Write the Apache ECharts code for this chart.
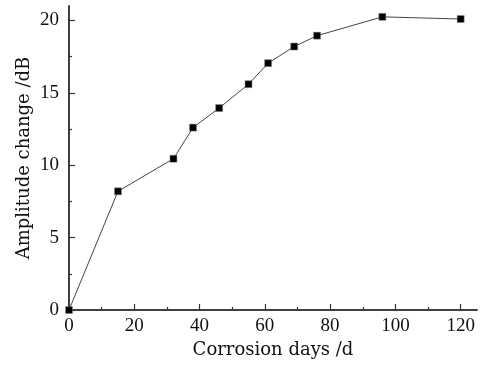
<!DOCTYPE html>
<html>
<head>
<meta charset="utf-8">
<script src="https://cdn.jsdelivr.net/npm/echarts@6/dist/echarts.min.js"></script>
<style>
  html, body { margin: 0; padding: 0; background: #fff; }
  #chart { width: 494px; height: 366px; }
</style>
</head>
<body>
<div id="chart"></div>
<script>
// corrosion days vs amplitude change
const days = [0, 15, 32, 38, 46, 55, 61, 69, 76, 96, 120]
const amplitude = [0, 8.2, 10.45, 12.6, 13.95, 15.6, 17.05, 18.2, 18.95, 20.25, 20.1]
const xMajor = [0, 20, 40, 60, 80, 100, 120]
const xMinor = [10, 30, 50, 70, 90, 110]
const yMajor = [0, 5, 10, 15, 20]
const yMinor = [2.5, 7.5, 12.5, 17.5]

const font = 'DejaVu Serif'
const tickFont = 'Liberation Serif'
const axisColor = '#333'

const chart = echarts.init(document.getElementById('chart'))

const baseX = {
  type: 'value',
  min: 0,
  max: 125,
  interval: 5,
  splitLine: { show: false },
  axisLine: { show: true, onZero: false, lineStyle: { color: axisColor, width: 1.5 } }
}
const baseY = {
  type: 'value',
  min: 0,
  max: 21,
  interval: 2.5,
  splitLine: { show: false },
  axisLine: { show: true, onZero: false, lineStyle: { color: axisColor, width: 1.5 } }
}

chart.setOption({
  backgroundColor: '#fff',
  animation: false,
  grid: { left: 69, right: 17, top: 6, bottom: 56, containLabel: false, outerBoundsMode: 'none' },
  xAxis: [
    Object.assign({}, baseX, {
      name: 'Corrosion days /d',
      nameLocation: 'middle',
      nameGap: 31,
      nameMoveOverlap: false,
      nameTextStyle: { fontFamily: font, fontSize: 18, color: '#111' },
      axisTick: { inside: true, length: 6, customValues: xMajor, lineStyle: { color: axisColor, width: 1.2 } },
      axisLabel: { customValues: xMajor, fontFamily: tickFont, fontSize: 19, color: '#111', margin: 7 }
    }),
    Object.assign({}, baseX, {
      position: 'bottom',
      axisTick: { inside: true, length: 3, customValues: xMinor, lineStyle: { color: axisColor, width: 1.2 } },
      axisLabel: { show: false }
    })
  ],
  yAxis: [
    Object.assign({}, baseY, {
      name: 'Amplitude change /dB',
      nameLocation: 'middle',
      nameGap: 36,
      nameMoveOverlap: false,
      nameTextStyle: { fontFamily: font, fontSize: 18, color: '#111' },
      axisTick: { inside: true, length: 6, customValues: yMajor, lineStyle: { color: axisColor, width: 1.2 } },
      axisLabel: { customValues: yMajor, fontFamily: tickFont, fontSize: 19, color: '#111', margin: 10 }
    }),
    Object.assign({}, baseY, {
      position: 'left',
      axisTick: { inside: true, length: 3, customValues: yMinor, lineStyle: { color: axisColor, width: 1.2 } },
      axisLabel: { show: false }
    })
  ],
  series: [
    {
      type: 'line',
      data: days.map((d, i) => [d, amplitude[i]]),
      symbol: 'rect',
      symbolSize: 7,
      lineStyle: { color: '#444', width: 1 },
      itemStyle: { color: '#000', borderColor: '#888', borderWidth: 0.5 }
    }
  ]
})
</script>
</body>
</html>
